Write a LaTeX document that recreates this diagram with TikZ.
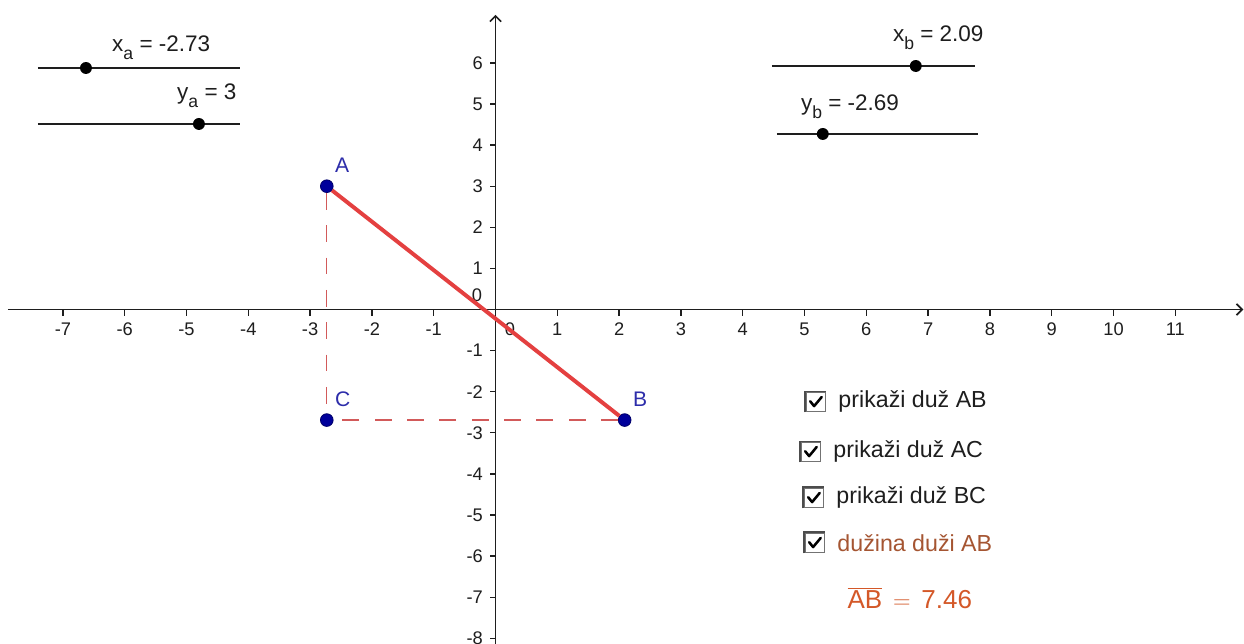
\documentclass[tikz,border=0pt]{standalone}
\usepackage{fontspec}
\setmainfont{Liberation Sans}
\usepackage{tikz}
\usetikzlibrary{arrows.meta, positioning}
\usepackage{xcolor}

\definecolor{segred}{RGB}{228,64,64}
\definecolor{auxred}{RGB}{210,90,90}
\definecolor{ptblue}{RGB}{0,0,155}
\definecolor{lblblue}{RGB}{45,45,170}
\definecolor{lenbrown}{RGB}{165,85,50}
\definecolor{lenorange}{RGB}{212,88,40}
\definecolor{inkgray}{RGB}{30,30,30}

\newcommand{\lowsub}[1]{\raisebox{-0.6ex}{\fontsize{12.5}{12.5}\selectfont #1}}

\begin{document}
\begin{tikzpicture}[
  x=1.545cm, y=1.0275cm,
  font=\fontsize{12}{14}\selectfont,
  axis/.style={line width=1.2pt, inkgray, -{Straight Barb[length=4pt, width=8pt]}},
  axtick/.style={line width=0.9pt, inkgray},
  ticklabel/.style={inner sep=0pt, text=inkgray, font=\fontsize{13}{15}\selectfont},
  seg/.style={segred, line width=2.8pt},
  auxseg/.style={auxred, line width=0.9pt, dash pattern=on 12pt off 11pt},
  point/.style={circle, fill=ptblue, draw=ptblue!70!black, line width=0.6pt,
                inner sep=0pt, minimum size=9pt},
  ptlabel/.style={inner sep=0pt, text=lblblue, font=\fontsize{15}{17}\selectfont},
  slider/.style={line width=1.1pt, inkgray},
  knob/.style={circle, fill=black, inner sep=0pt, minimum size=8.5pt},
  sliderlabel/.style={inner sep=0pt, anchor=base west, text=inkgray,
                      font=\fontsize{16}{18}\selectfont},
  chkbox/.style={draw=black!55, line width=0.8pt, fill=white, inner sep=0pt,
                 minimum size=14pt},
  checkmark/.style={line width=1.8pt, black, line cap=round, line join=round},
  chklabel/.style={inner sep=0pt, text=inkgray, font=\fontsize{16.5}{18}\selectfont}
]

%% page frame
\fill[white, use as bounding box] (-12.3875cm,7.7375cm) rectangle ++(31.1cm,-16.075cm);

%% axes
\coordinate (xmin) at (-7.89,0);
\coordinate (xmax) at (12.1,0);
\coordinate (ymin) at (0,-8.13);
\coordinate (ymax) at (0,7.17);
\draw[axis] (xmin) -- (xmax);
\draw[axis] (ymin) -- (ymax);

\foreach \i in {-7,-6,-5,-4,-3,-2,-1,1,2,3,4,5,6,7,8,9,10,11} {
  \draw[axtick] (\i,0) -- ++(0,-0.15cm);
  \node[ticklabel] (xt\i) at ([yshift=-0.49cm]\i,0) {\i};
}
\foreach \j in {-8,-7,-6,-5,-4,-3,-2,-1,1,2,3,4,5,6} {
  \draw[axtick] (0,\j) -- ++(-0.15cm,0);
  \node[ticklabel, anchor=east] (yt\j) at ([xshift=-0.31cm]0,\j) {\j};
}
\node[ticklabel] (xzero) at (0.235,-0.474) {0};
\node[ticklabel] (yzero) at (-0.3,0.353) {0};

%% triangle points
\node[point] (A) at (-2.73,3) {};
\node[point] (B) at (2.09,-2.69) {};
\node[point] (C) at (-2.73,-2.69) {};
\node[ptlabel, above right=6.5pt and 2.4pt of A] (labA) {A};
\node[ptlabel, above right=6pt and 2.4pt of B] (labB) {B};
\node[ptlabel, above right=6pt and 2.4pt of C] (labC) {C};

\draw[auxseg] (A) -- (C);
\draw[auxseg] (B) -- (C);
\draw[seg] (A) -- (B);

%% screen objects (pixels, y down)
\begin{scope}[shift={(-12.3875cm,7.7375cm)}, x=0.025cm, y=-0.025cm]

%% sliders
\coordinate (xaL) at (38,68);  \coordinate (xaR) at (240,68);
\coordinate (yaL) at (38,124); \coordinate (yaR) at (240,124);
\coordinate (xbL) at (772,66); \coordinate (xbR) at (975,66);
\coordinate (ybL) at (777,134);\coordinate (ybR) at (978,134);
\draw[slider] (xaL) -- (xaR);
\draw[slider] (yaL) -- (yaR);
\draw[slider] (xbL) -- (xbR);
\draw[slider] (ybL) -- (ybR);
\node[knob] (xaK) at (86,68) {};
\node[knob] (yaK) at (199,124) {};
\node[knob] (xbK) at (916,66) {};
\node[knob] (ybK) at (823,134) {};
\node[sliderlabel] (xaT) at (112,52)  {x\lowsub{a} = -2.73};
\node[sliderlabel] (yaT) at (177,100) {y\lowsub{a} = 3};
\node[sliderlabel] (xbT) at (893,42)  {x\lowsub{b} = 2.09};
\node[sliderlabel] (ybT) at (801,111) {y\lowsub{b} = -2.69};

%% checkboxes
\node[chkbox] (chk1) at (816,402) {};
\node[chkbox] (chk2) at (811,452) {};
\node[chkbox] (chk3) at (814,498) {};
\node[chkbox] (chk4) at (815,543) {};
\foreach \b in {chk1,chk2,chk3,chk4} {
  \draw[line width=1.4pt, black!70] (\b.south west) -- (\b.north west) -- (\b.north east);
  \draw[checkmark] ([shift={(-4pt,0.5pt)}]\b.center) -- ([shift={(-1.2pt,-3pt)}]\b.center)
                   -- ([shift={(4.2pt,3.5pt)}]\b.center);
}
\node[chklabel, right=0.3cm of chk1] (txt1) {prikaži duž AB};
\node[chklabel, right=0.3cm of chk2] (txt2) {prikaži duž AC};
\node[chklabel, right=0.3cm of chk3] (txt3) {prikaži duž BC};
\node[chklabel, text=lenbrown, right=0.3cm of chk4] (txt4) {dužina duži AB};

%% length of AB
\node[inner sep=0pt, text=lenorange, font=\fontsize{18.5}{20}\selectfont] (len)
  at (910,598) {$\overline{\mbox{AB}}\,=\,\mbox{7.46}$};

\end{scope}

\end{tikzpicture}
\end{document}
